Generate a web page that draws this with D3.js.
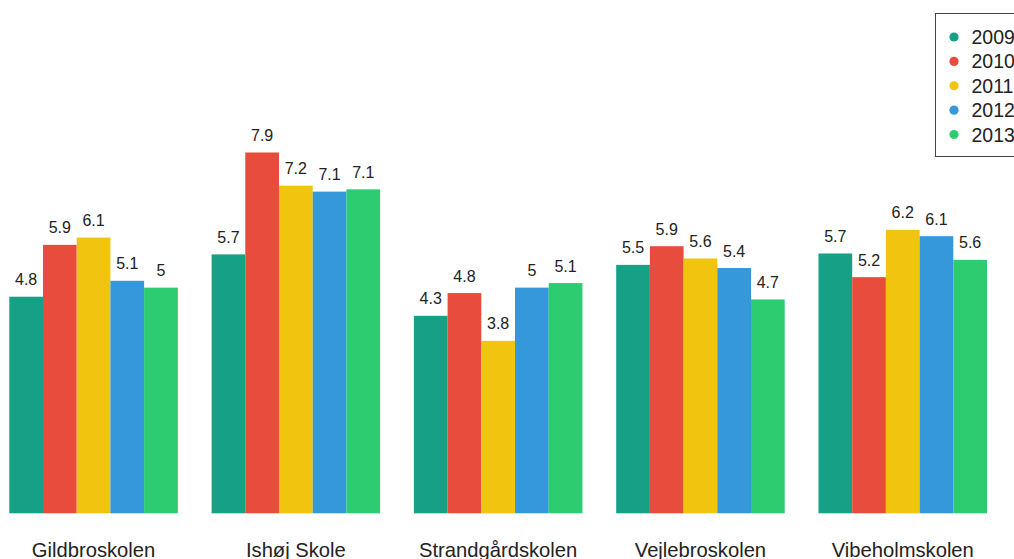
<!DOCTYPE html>
<html>
<head>
<meta charset="utf-8">
<script src="https://cdn.jsdelivr.net/npm/d3@7"></script>
<style>
  html, body { margin: 0; padding: 0; background: #fff; overflow: hidden; }
  svg { display: block; font-family: "Liberation Sans", Arial, Helvetica, sans-serif; }
</style>
</head>
<body>
<svg id="chart" width="1014" height="559"></svg>
<script>
const schools = ["Gildbroskolen", "Ishøj Skole", "Strandgårdskolen", "Vejlebroskolen", "Vibeholmskolen"];
const years = ["2009", "2010", "2011", "2012", "2013"];
const colors = ["#16a085", "#e74c3c", "#f1c40f", "#3498db", "#2ecc71"];
const v2009 = [4.76, 5.69, 4.34, 5.46, 5.71];
const v2010 = [5.90, 7.93, 4.84, 5.87, 5.19];
const v2011 = [6.06, 7.20, 3.79, 5.60, 6.23];
const v2012 = [5.11, 7.07, 4.96, 5.39, 6.09];
const v2013 = [4.96, 7.12, 5.06, 4.70, 5.57];
const series = [v2009, v2010, v2011, v2012, v2013];

const svg = d3.select("#chart");

const x0 = d3.scaleBand().domain(schools).range([9.3, 987]).paddingInner(0.167).paddingOuter(0);
const x1 = d3.scaleBand().domain(years).range([0, x0.bandwidth()]).padding(0);
const y = d3.scaleLinear().domain([0, 8]).range([513.3, 513.3 - 8 * 45.5]);
const color = d3.scaleOrdinal().domain(years).range(colors);

const data = schools.map((s, i) => ({
  school: s,
  values: years.map((yr, j) => ({ year: yr, value: series[j][i] }))
}));

const groups = svg.append("g").selectAll("g")
  .data(data).join("g")
  .attr("transform", d => `translate(${x0(d.school)},0)`);

groups.selectAll("rect")
  .data(d => d.values).join("rect")
  .attr("x", d => x1(d.year))
  .attr("width", x1.bandwidth())
  .attr("y", d => y(d.value))
  .attr("height", d => y(0) - y(d.value))
  .attr("fill", d => color(d.year));

const fmt = v => String(Math.round(v * 10) / 10);
groups.selectAll("text")
  .data(d => d.values).join("text")
  .attr("x", d => x1(d.year) + x1.bandwidth() / 2)
  .attr("y", d => y(d.value) - 11.5)
  .attr("text-anchor", "middle")
  .attr("font-size", "16px")
  .attr("fill", "#222")
  .text(d => fmt(d.value));

// x axis labels
const xAxis = d3.axisBottom(x0).tickSize(0).tickPadding(0);
const ax = svg.append("g").attr("transform", "translate(0,540)").call(xAxis);
ax.select(".domain").remove();
ax.selectAll("text")
  .attr("dy", null)
  .attr("y", 16.7)
  .attr("font-size", "20.2px")
  .attr("font-family", "'Liberation Sans', Arial, Helvetica, sans-serif")
  .attr("fill", "#222");

// legend
const leg = svg.append("g");
leg.append("rect")
  .attr("x", 935.5).attr("y", 13.5)
  .attr("width", 120).attr("height", 143)
  .attr("fill", "#fff").attr("stroke", "#444").attr("stroke-width", 1);
const ly = d3.scalePoint().domain(years).range([37, 134.5]);
const items = leg.selectAll("g.item").data(years).join("g").attr("class", "item")
  .attr("transform", d => `translate(0,${ly(d)})`);
items.append("circle").attr("cx", 954).attr("cy", 0).attr("r", 4.6).attr("fill", d => color(d));
items.append("text").attr("x", 971.5).attr("y", 0).attr("dy", "0.36em")
  .attr("font-size", "19.5px").attr("fill", "#222").text(d => d);
</script>
</body>
</html>
